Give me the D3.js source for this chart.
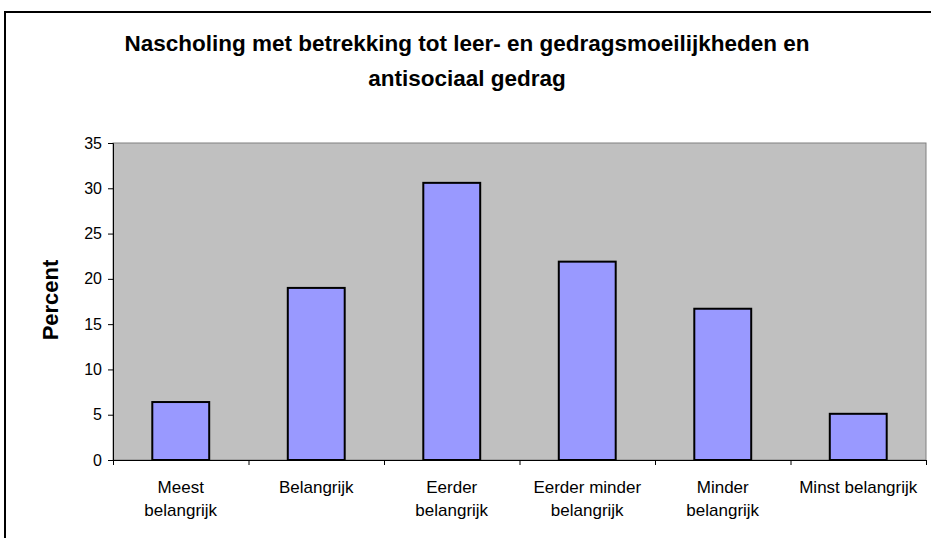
<!DOCTYPE html>
<html>
<head>
<meta charset="utf-8">
<script src="https://cdn.jsdelivr.net/npm/d3@7"></script>
<style>
  body { margin: 0; background: #fff; }
  text { font-family: "Liberation Sans", Arial, sans-serif; }
</style>
</head>
<body>
<div id="chart"></div>
<script>
// categories, each one split into lines the way the original wraps them
var categories = ["Meest belangrijk", "Belangrijk", "Eerder belangrijk",
                  "Eerder minder belangrijk", "Minder belangrijk", "Minst belangrijk"];
var labelLines = [["Meest", "belangrijk"], ["Belangrijk"], ["Eerder", "belangrijk"],
                  ["Eerder minder", "belangrijk"], ["Minder", "belangrijk"], ["Minst belangrijk"]];
var percent = [6.4, 19.0, 30.6, 21.9, 16.7, 5.1];
var yTicks = [0, 5, 10, 15, 20, 25, 30, 35];
var titleLines = ["Nascholing met betrekking tot leer- en gedragsmoeilijkheden en", "antisociaal gedrag"];

var W = 931, H = 538;
var plot = {left: 113, top: 143, right: 926, bottom: 460};

var svg = d3.select("#chart").append("svg")
    .attr("width", W)
    .attr("height", H);

// outer chart frame (runs off the right and bottom edge)
svg.append("rect")
    .attr("x", 5).attr("y", 12)
    .attr("width", 1000).attr("height", 600)
    .attr("fill", "#fff")
    .attr("stroke", "#000")
    .attr("stroke-width", 2);

var x = d3.scaleBand()
    .domain(categories)
    .range([plot.left, plot.right])
    .paddingInner(0.58)
    .paddingOuter(0.29);

var xTick = d3.scaleLinear()
    .domain([0, categories.length])
    .range([plot.left, plot.right]);

var y = d3.scaleLinear()
    .domain([0, 35])
    .range([plot.bottom, plot.top]);

// plot area
svg.append("rect")
    .attr("x", plot.left).attr("y", plot.top)
    .attr("width", plot.right - plot.left)
    .attr("height", plot.bottom - plot.top)
    .attr("fill", "#c0c0c0")
    .attr("stroke", "#808080")
    .attr("stroke-width", 1);

// bars
svg.selectAll(".bar")
    .data(percent)
    .enter().append("rect")
    .attr("class", "bar")
    .attr("x", function(d, i) { return x(categories[i]); })
    .attr("y", function(d) { return y(d); })
    .attr("width", x.bandwidth())
    .attr("height", function(d) { return y(0) - y(d); })
    .attr("fill", "#9999ff")
    .attr("stroke", "#000")
    .attr("stroke-width", 2);

// y axis
var yAxis = svg.append("g")
    .attr("transform", "translate(" + plot.left + ",0)")
    .call(d3.axisLeft(y).tickValues(yTicks).tickSize(5).tickPadding(6));
yAxis.selectAll("text")
    .attr("font-size", 16)
    .attr("fill", "#000")
    .style("font-family", "'Liberation Sans', Arial, sans-serif");
yAxis.selectAll("line").attr("stroke", "#000");
yAxis.select(".domain").attr("stroke", "#000");

// x axis: ticks sit between categories
var xAxis = svg.append("g")
    .attr("transform", "translate(0," + plot.bottom + ")")
    .call(d3.axisBottom(xTick).tickValues(d3.range(categories.length + 1)).tickSize(5).tickFormat(""));
xAxis.selectAll("line").attr("stroke", "#000");
xAxis.select(".domain").attr("stroke", "#000");

// category labels
var lab = svg.selectAll(".xlab")
    .data(labelLines)
    .enter().append("text")
    .attr("class", "xlab")
    .attr("text-anchor", "middle")
    .attr("font-size", 17)
    .attr("fill", "#000");
lab.selectAll("tspan")
    .data(function(d, i) { return d.map(function(s) { return {s: s, i: i}; }); })
    .enter().append("tspan")
    .attr("x", function(d) { return x(categories[d.i]) + x.bandwidth() / 2; })
    .attr("y", function(d, j) { return 493 + j * 23; })
    .text(function(d) { return d.s; });

// title
svg.append("text")
    .attr("text-anchor", "middle")
    .attr("font-size", 22.5)
    .attr("font-weight", "bold")
    .selectAll("tspan")
    .data(titleLines)
    .enter().append("tspan")
    .attr("x", 467)
    .attr("y", function(d, i) { return 51 + i * 35; })
    .text(function(d) { return d; });

// y axis title
svg.append("text")
    .attr("transform", "translate(58,300) rotate(-90)")
    .attr("text-anchor", "middle")
    .attr("font-size", 22)
    .attr("font-weight", "bold")
    .text("Percent");
</script>
</body>
</html>
